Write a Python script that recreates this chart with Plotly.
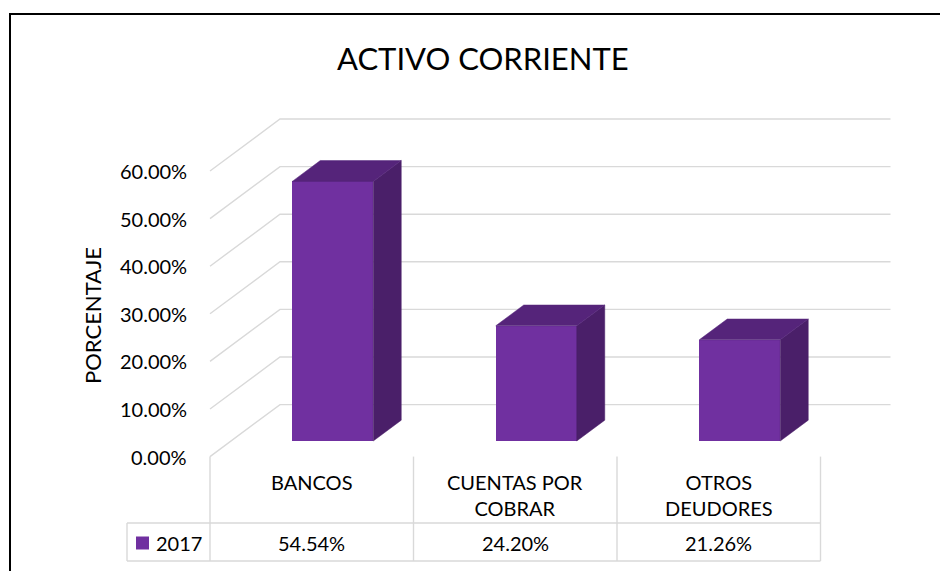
import plotly.graph_objects as go

# ---------------- data ----------------
categories = ["BANCOS", "CUENTAS POR COBRAR", "OTROS DEUDORES"]
series_name = "2017"
values = [54.54, 24.20, 21.26]          # percent
y_ticks = [0, 10, 20, 30, 40, 50, 60]   # percent
title_text = "ACTIVO CORRIENTE"
y_title = "PORCENTAJE"

# ---------------- geometry / style ----------------
W, H = 940, 571
CAT_PX = 203.5          # pixels per category (front plane)
CAT0_PX = 311.75        # pixel x of first category centre (front plane)
PCT_PX = 4.76           # pixels per percent
ZERO_PY = 456.6         # pixel y of 0% at front plane
DEPTH_PX = (70.0, -52.0)  # full depth vector in pixels (front plane -> back wall)
T_FRONT, T_BACK = 0.30, 0.70  # bar front / back depth fractions
BAR_W = 81.0 / CAT_PX

DX = DEPTH_PX[0] / CAT_PX
DY = -DEPTH_PX[1] / PCT_PX

FRONT = "#7030A0"
TOP = "#55247A"
SIDE = "#4A1F69"
GRID = "#D9D9D9"
FONT = "Lato, 'Noto Sans', sans-serif"


def px2x(px):
    return (px - CAT0_PX) / CAT_PX


def py2y(py):
    return (ZERO_PY - py) / PCT_PX


x_range = [px2x(0), px2x(W)]
y_range = [py2y(H), py2y(0)]

n = len(categories)
fig = go.Figure()

# back-wall gridlines with diagonal side-wall segments (below the bars)
for v in y_ticks:
    xs = [-0.5, -0.5 + DX, (n - 0.5) + DX]
    ys = [v, v + DY, v + DY]
    path = f"M {xs[0]},{ys[0]} L {xs[1]},{ys[1]} L {xs[2]},{ys[2]}"
    fig.add_shape(type="path", xref="x", yref="y", path=path,
                  line=dict(color=GRID, width=1.4), layer="below")

# 3D bars
for i, v in enumerate(values):
    xl, xr = i - BAR_W / 2, i + BAR_W / 2
    # side face
    fig.add_trace(go.Scatter(
        x=[xr + T_FRONT * DX, xr + T_BACK * DX, xr + T_BACK * DX, xr + T_FRONT * DX, xr + T_FRONT * DX],
        y=[T_FRONT * DY, T_BACK * DY, v + T_BACK * DY, v + T_FRONT * DY, T_FRONT * DY],
        mode="lines", fill="toself", fillcolor=SIDE, line=dict(color=SIDE, width=0.5),
        hoverinfo="skip", showlegend=False))
    # top face
    fig.add_trace(go.Scatter(
        x=[xl + T_FRONT * DX, xr + T_FRONT * DX, xr + T_BACK * DX, xl + T_BACK * DX, xl + T_FRONT * DX],
        y=[v + T_FRONT * DY, v + T_FRONT * DY, v + T_BACK * DY, v + T_BACK * DY, v + T_FRONT * DY],
        mode="lines", fill="toself", fillcolor=TOP, line=dict(color=TOP, width=0.5),
        hoverinfo="skip", showlegend=False))

# front faces as a real bar trace
fig.add_trace(go.Bar(
    x=[i + T_FRONT * DX for i in range(n)],
    y=values,
    base=[T_FRONT * DY] * n,
    width=BAR_W,
    marker=dict(color=FRONT, line=dict(width=0)),
    name=series_name, showlegend=False))

# y tick labels (front plane)
for v in y_ticks:
    fig.add_annotation(x=-0.5, y=v, xref="x", yref="y", text=f"{v:.2f}%",
                       showarrow=False, xanchor="right", yanchor="middle", xshift=-21,
                       font=dict(family=FONT, size=20, color="#000000"))

# data table
TABLE_SEP_PY, TABLE_BOT_PY, LEG_LEFT_PX = 523, 561, 127
y_sep, y_bot = py2y(TABLE_SEP_PY), py2y(TABLE_BOT_PY)
for k in range(n + 1):
    fig.add_shape(type="line", xref="x", yref="y", x0=k - 0.5, x1=k - 0.5, y0=0, y1=y_bot,
                  line=dict(color=GRID, width=1.4), layer="below")
for yy in (y_sep, y_bot):
    fig.add_shape(type="line", xref="x", yref="y", x0=px2x(LEG_LEFT_PX), x1=n - 0.5, y0=yy, y1=yy,
                  line=dict(color=GRID, width=1.4), layer="below")
fig.add_shape(type="line", xref="x", yref="y", x0=px2x(LEG_LEFT_PX), x1=px2x(LEG_LEFT_PX),
              y0=y_sep, y1=y_bot, line=dict(color=GRID, width=1.4), layer="below")


def wrap(s):
    if " " in s and len(s) > 10:
        a, b = s.rsplit(" ", 1)
        return a + "<br>" + b
    return s


for i, c in enumerate(categories):
    fig.add_annotation(x=i, y=py2y(468), xref="x", yref="y", text=wrap(c), showarrow=False,
                       xanchor="center", yanchor="top", align="center",
                       font=dict(family=FONT, size=20, color="#000000"))
    fig.add_annotation(x=i, y=py2y(543), xref="x", yref="y", text=f"{values[i]:.2f}%",
                       showarrow=False, xanchor="center", yanchor="middle",
                       font=dict(family=FONT, size=20, color="#000000"))

# legend key in table
fig.add_trace(go.Scatter(x=[px2x(142.5)], y=[py2y(543)], mode="markers",
                         marker=dict(symbol="square", size=13, color=FRONT),
                         hoverinfo="skip", showlegend=False))
fig.add_annotation(x=px2x(154), y=py2y(543), xref="x", yref="y", text=series_name,
                   showarrow=False, xanchor="left", yanchor="middle",
                   font=dict(family=FONT, size=20, color="#000000"))

# title and axis title
fig.add_annotation(x=482.5 / W, y=1 - 58 / H, xref="paper", yref="paper", text=title_text,
                   showarrow=False, xanchor="center", yanchor="middle",
                   font=dict(family=FONT, size=31, color="#000000"))
fig.add_annotation(x=92 / W, y=1 - 316 / H, xref="paper", yref="paper", text=y_title,
                   showarrow=False, textangle=-90, xanchor="center", yanchor="middle",
                   font=dict(family=FONT, size=22, color="#000000"))

# chart border
fig.add_shape(type="rect", xref="paper", yref="paper", x0=10 / W, y0=-0.1, x1=1.1, y1=1 - 14 / H,
              line=dict(color="#000000", width=2), layer="above")

fig.update_layout(
    width=W, height=H,
    margin=dict(l=0, r=0, t=0, b=0),
    paper_bgcolor="white", plot_bgcolor="white",
    xaxis=dict(range=x_range, visible=False, fixedrange=True),
    yaxis=dict(range=y_range, visible=False, fixedrange=True),
    showlegend=False,
    bargap=0,
)

fig.write_html("out.html", config={"displayModeBar": False},
               post_script="document.body.style.margin='0px';document.body.style.overflow='hidden';")
